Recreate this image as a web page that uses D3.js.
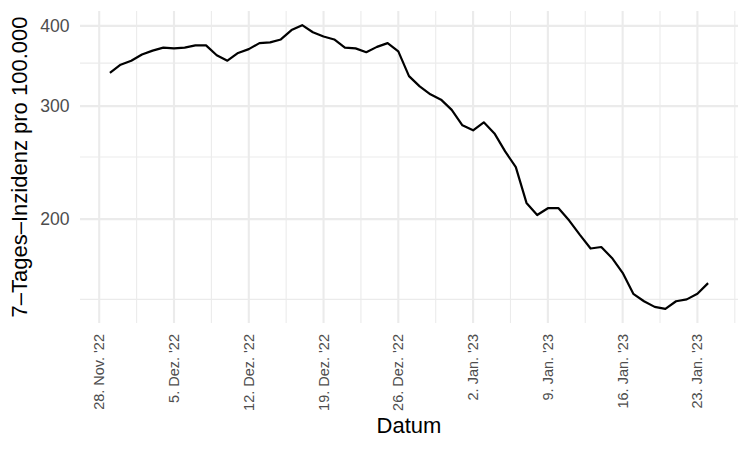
<!DOCTYPE html>
<html>
<head>
<meta charset="utf-8">
<script src="https://cdn.jsdelivr.net/npm/d3@7"></script>
<style>
	body { margin: 0; background: white; }
	text { font-family: "Liberation Sans", Arial, sans-serif; }
</style>
</head>
<body>
<div id="chart_container"></div>
<script>

// first day of the series, one value per day
const startDay = '2022-11-29'

const incidence = [
	338, 348, 353, 361, 366, 370, 369, 370, 373, 373,
	360, 353, 363, 368, 376, 377, 381, 394, 401, 391,
	385, 381, 370, 369, 364, 371, 376, 365, 334, 322,
	313, 307, 296, 280, 275, 283, 272, 255, 241, 212,
	203, 208, 208, 199, 189, 180, 181, 174, 165, 153,
	149, 146, 145, 149, 150, 153, 159
]

const xTickDays = ['2022-11-28', '2022-12-05', '2022-12-12', '2022-12-19', '2022-12-26',
	'2023-01-02', '2023-01-09', '2023-01-16', '2023-01-23']

const xTickLabels = ['28. Nov. \'22', '5. Dez. \'22', '12. Dez. \'22', '19. Dez. \'22', '26. Dez. \'22',
	'2. Jan. \'23', '9. Jan. \'23', '16. Jan. \'23', '23. Jan. \'23']

const yTicks = [200, 300, 400]
const yMinorTicks = [150, 250, 350]

const yTitle = '7–Tages–Inzidenz pro 100.000'
const xTitle = 'Datum'


const width = 750
const height = 450

const panel = {left: 80, right: 738, top: 11, bottom: 323}

const dayMs = 24 * 3600 * 1000

const svg = d3.select('#chart_container')
	.append('svg')
	.attr('width', width)
	.attr('height', height)

let parseDay = d3.utcParse('%Y-%m-%d')

let firstDay = parseDay(startDay)

let series = incidence.map(function(v, i){
	return {'date': new Date(firstDay.getTime() + i * dayMs), 'value': v}
})

// ggplot-like 5% expansion on both axes
let xExtent = d3.extent(series, d => d.date.getTime())
let xPad = (xExtent[1] - xExtent[0]) * 0.05

let xScale = d3.scaleUtc()
	.domain([new Date(xExtent[0] - xPad), new Date(xExtent[1] + xPad)])
	.range([panel.left, panel.right])

let yExtent = d3.extent(series, d => Math.log(d.value))
let yPad = (yExtent[1] - yExtent[0]) * 0.05

let yScale = d3.scaleLog()
	.domain([Math.exp(yExtent[0] - yPad), Math.exp(yExtent[1] + yPad)])
	.range([panel.bottom, panel.top])

let xTicks = xTickDays.map(d => parseDay(d))

// minor x breaks halfway between the weekly breaks
let xMinor = []
for(let i = -1; i < xTicks.length; i++){
	let base = i < 0 ? xTicks[0].getTime() - 7 * dayMs : xTicks[i].getTime()
	let mid = new Date(base + 3.5 * dayMs)
	if(mid >= xScale.domain()[0] && mid <= xScale.domain()[1]){
		xMinor.push(mid)
	}
}

let grid = svg.append('g')

grid.selectAll('.yminor')
	.data(yMinorTicks)
	.enter()
	.append('line')
	.attr('x1', panel.left)
	.attr('x2', panel.right)
	.attr('y1', d => yScale(d))
	.attr('y2', d => yScale(d))
	.attr('stroke', '#ebebeb')
	.attr('stroke-width', 1.1)

grid.selectAll('.xminor')
	.data(xMinor)
	.enter()
	.append('line')
	.attr('x1', d => xScale(d))
	.attr('x2', d => xScale(d))
	.attr('y1', panel.top)
	.attr('y2', panel.bottom)
	.attr('stroke', '#ebebeb')
	.attr('stroke-width', 1.1)

grid.selectAll('.ymajor')
	.data(yTicks)
	.enter()
	.append('line')
	.attr('x1', panel.left)
	.attr('x2', panel.right)
	.attr('y1', d => yScale(d))
	.attr('y2', d => yScale(d))
	.attr('stroke', '#ebebeb')
	.attr('stroke-width', 2.1)

grid.selectAll('.xmajor')
	.data(xTicks)
	.enter()
	.append('line')
	.attr('x1', d => xScale(d))
	.attr('x2', d => xScale(d))
	.attr('y1', panel.top)
	.attr('y2', panel.bottom)
	.attr('stroke', '#ebebeb')
	.attr('stroke-width', 2.1)

let line = d3.line()
	.x(d => xScale(d.date))
	.y(d => yScale(d.value))

svg.append('path')
	.datum(series)
	.attr('d', line)
	.attr('fill', 'none')
	.attr('stroke', 'black')
	.attr('stroke-width', 2.2)
	.attr('stroke-linejoin', 'round')

// y tick labels
svg.selectAll('.ylabel')
	.data(yTicks)
	.enter()
	.append('text')
	.attr('x', 69.5)
	.attr('y', d => yScale(d))
	.attr('dy', '0.35em')
	.attr('text-anchor', 'end')
	.attr('font-size', '17.6px')
	.attr('fill', '#4d4d4d')
	.text(d => d)

// x tick labels, rotated
svg.selectAll('.xlabel')
	.data(xTicks)
	.enter()
	.append('text')
	.attr('transform', (d, i) => 'translate(' + xScale(d) + ',334) rotate(-90)')
	.attr('dy', '0.35em')
	.attr('text-anchor', 'end')
	.attr('font-size', '14.5px')
	.attr('fill', '#4d4d4d')
	.text((d, i) => xTickLabels[i])

svg.append('text')
	.attr('x', (panel.left + panel.right) / 2)
	.attr('y', 433)
	.attr('text-anchor', 'middle')
	.attr('font-size', '22px')
	.attr('fill', 'black')
	.text(xTitle)

svg.append('text')
	.attr('transform', 'translate(27,' + (panel.top + panel.bottom) / 2 + ') rotate(-90)')
	.attr('text-anchor', 'middle')
	.attr('font-size', '22px')
	.attr('fill', 'black')
	.text(yTitle)

</script>
</body>
</html>
